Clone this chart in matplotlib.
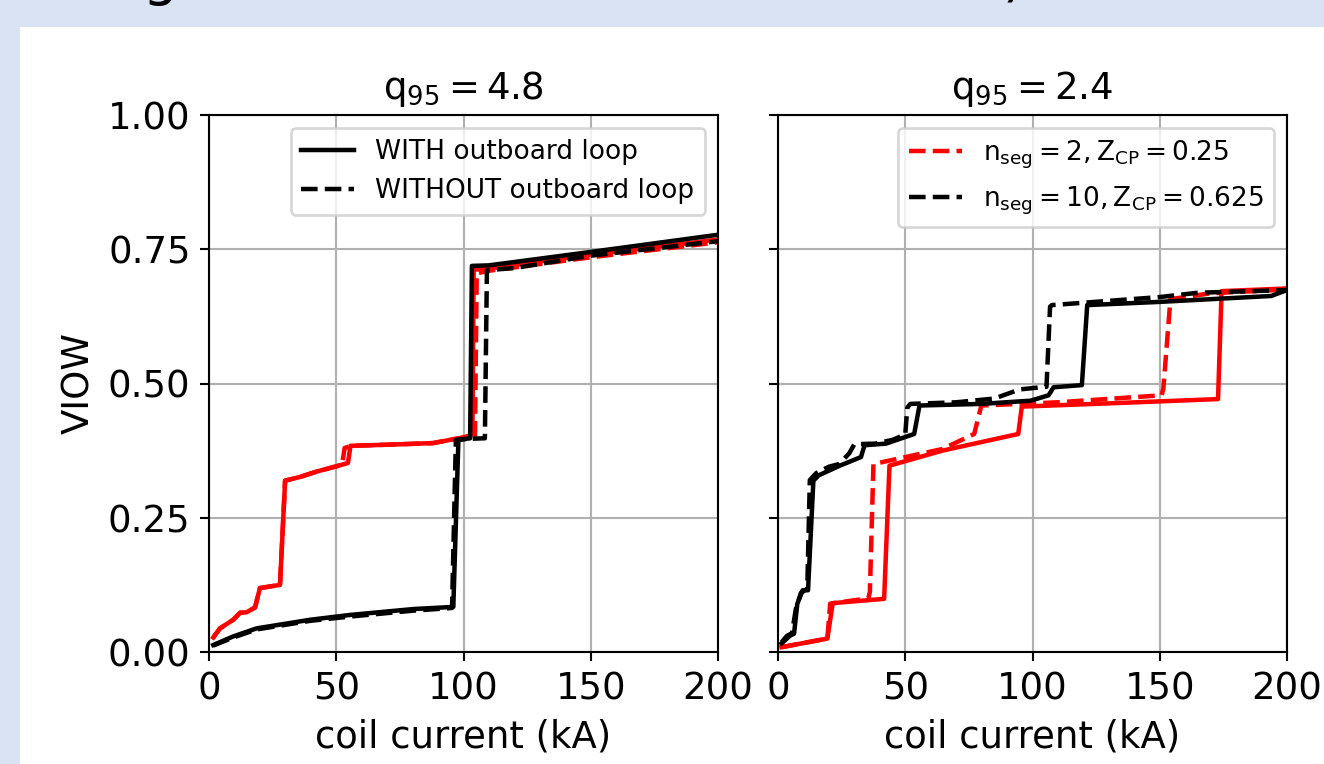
import numpy as np
import matplotlib
matplotlib.use("Agg")
import matplotlib.pyplot as plt
from matplotlib.patches import Rectangle

## data: coil current (kA) vs VIOW
# left panel, q95 = 4.8
l_red_solid_x = [1.7, 4.3, 9.5, 12.2, 14.8, 18.1, 20.0, 27.9, 29.9, 35.8, 42.3, 50.2, 54.6, 55.6, 70.0, 88.0, 97.0, 101.0, 103.5, 104.0, 110.0, 150.0, 200.0]
l_red_solid_y = [0.027, 0.044, 0.060, 0.073, 0.074, 0.083, 0.119, 0.125, 0.319, 0.326, 0.336, 0.346, 0.352, 0.384, 0.386, 0.389, 0.397, 0.401, 0.405, 0.712, 0.714, 0.740, 0.768]
l_red_dash_x = [1.7, 4.3, 9.5, 12.2, 14.8, 18.1, 20.0, 27.9, 29.9, 35.8, 42.3, 50.2, 52.3, 53.3, 56.0, 70.0, 88.0, 97.0, 104.5, 105.2, 110.0, 150.0, 200.0]
l_red_dash_y = [0.027, 0.044, 0.060, 0.073, 0.074, 0.083, 0.119, 0.125, 0.319, 0.326, 0.336, 0.346, 0.349, 0.380, 0.384, 0.386, 0.389, 0.397, 0.401, 0.705, 0.710, 0.735, 0.763]
l_blk_solid_x = [1.7, 9.5, 18.7, 39.7, 55.4, 80.3, 96.0, 98.0, 102.6, 103.3, 110.0, 150.0, 200.0]
l_blk_solid_y = [0.013, 0.029, 0.044, 0.060, 0.069, 0.080, 0.084, 0.395, 0.398, 0.719, 0.720, 0.745, 0.777]
l_blk_dash_x = [1.7, 9.5, 18.7, 39.7, 55.4, 80.3, 95.5, 97.0, 102.0, 108.4, 109.2, 120.0, 150.0, 200.0]
l_blk_dash_y = [0.012, 0.027, 0.042, 0.058, 0.066, 0.077, 0.082, 0.395, 0.397, 0.398, 0.711, 0.715, 0.738, 0.765]

# right panel, q95 = 2.4
r_red_solid_x = [1.4, 19.4, 21.5, 41.7, 43.8, 64.6, 94.4, 95.8, 130.0, 172.9, 174.3, 200.0]
r_red_solid_y = [0.009, 0.025, 0.091, 0.099, 0.347, 0.375, 0.406, 0.457, 0.463, 0.471, 0.672, 0.677]
r_red_dash_x = [1.4, 19.4, 20.5, 35.5, 36.1, 37.5, 64.6, 77.1, 79.9, 110.0, 150.7, 151.4, 154.2, 170.0, 200.0]
r_red_dash_y = [0.009, 0.025, 0.090, 0.100, 0.112, 0.350, 0.378, 0.406, 0.459, 0.465, 0.478, 0.490, 0.657, 0.668, 0.675]
r_blk_solid_x = [1.4, 4.9, 6.3, 7.6, 9.7, 11.8, 13.9, 16.0, 24.3, 32.6, 34.0, 42.4, 53.5, 55.6, 79.9, 99.3, 106.3, 108.3, 119.4, 121.5, 150.0, 193.8, 200.0]
r_blk_solid_y = [0.016, 0.031, 0.034, 0.090, 0.115, 0.115, 0.319, 0.329, 0.347, 0.363, 0.385, 0.388, 0.406, 0.459, 0.462, 0.468, 0.478, 0.493, 0.497, 0.646, 0.652, 0.663, 0.674]
r_blk_dash_x = [1.4, 3.5, 5.5, 7.0, 9.0, 11.5, 12.5, 15.0, 20.0, 24.0, 28.0, 30.0, 38.0, 45.0, 50.0, 50.8, 52.0, 70.0, 85.0, 95.0, 105.5, 106.9, 107.6, 150.0, 165.0, 200.0]
r_blk_dash_y = [0.018, 0.030, 0.035, 0.080, 0.110, 0.118, 0.320, 0.333, 0.345, 0.350, 0.370, 0.387, 0.388, 0.395, 0.405, 0.455, 0.462, 0.465, 0.472, 0.489, 0.494, 0.643, 0.646, 0.661, 0.669, 0.674]

xticks = [0, 50, 100, 150, 200]
yticks = [0.0, 0.25, 0.5, 0.75, 1.0]

plt.rcParams['lines.linewidth'] = 1.7

W, H = 1324, 764
fig = plt.figure(figsize=(W / 190, H / 190), dpi=190, facecolor='#dae3f3')
# white slide panel (behind the axes)
fig.patches.append(Rectangle((20 / W, 0), 1, (H - 27) / H, transform=fig.transFigure,
                             facecolor='white', edgecolor='none', zorder=-5))
# bottom of the cropped slide title
fig.text(143 / W, 1 + 6 / H, 'g', fontsize=21, va='baseline', ha='left')
fig.text(1003 / W, 1 + 6 / H, ')', fontsize=21, va='baseline', ha='left')

ax1 = fig.add_axes([209 / W, 112 / H, 509 / W, 537 / H])
ax2 = fig.add_axes([778 / W, 112 / H, 509 / W, 537 / H], sharey=ax1)

ax1.plot(l_red_solid_x, l_red_solid_y, 'r-')
ax1.plot(l_red_dash_x, l_red_dash_y, 'r--')
ax1.plot(l_blk_solid_x, l_blk_solid_y, 'k-', label='WITH outboard loop')
ax1.plot(l_blk_dash_x, l_blk_dash_y, 'k--', label='WITHOUT outboard loop')
ax1.set_title(r'$\mathrm{q_{95} = 4.8}$', fontsize=14)
ax1.set_ylabel('VIOW', fontsize=14)
ax1.legend(loc='upper right', fontsize=10)

ax2.plot(r_red_solid_x, r_red_solid_y, 'r-')
ax2.plot(r_red_dash_x, r_red_dash_y, 'r--', label=r'$\mathrm{n_{seg} = 2, Z_{CP} = 0.25}$')
ax2.plot(r_blk_solid_x, r_blk_solid_y, 'k-')
ax2.plot(r_blk_dash_x, r_blk_dash_y, 'k--', label=r'$\mathrm{n_{seg} = 10, Z_{CP} = 0.625}$')
ax2.set_title(r'$\mathrm{q_{95} = 2.4}$', fontsize=14)
ax2.legend(loc='upper right', fontsize=10)
ax2.tick_params(labelleft=False)

for ax in (ax1, ax2):
    ax.set_xlim(0, 200)
    ax.set_ylim(0, 1)
    ax.set_xticks(xticks)
    ax.set_yticks(yticks)
    ax.tick_params(labelsize=14)
    ax.set_xlabel('coil current (kA)', fontsize=14)
    ax.grid(True)

fig.savefig('out.png', dpi=190, facecolor=fig.get_facecolor())
